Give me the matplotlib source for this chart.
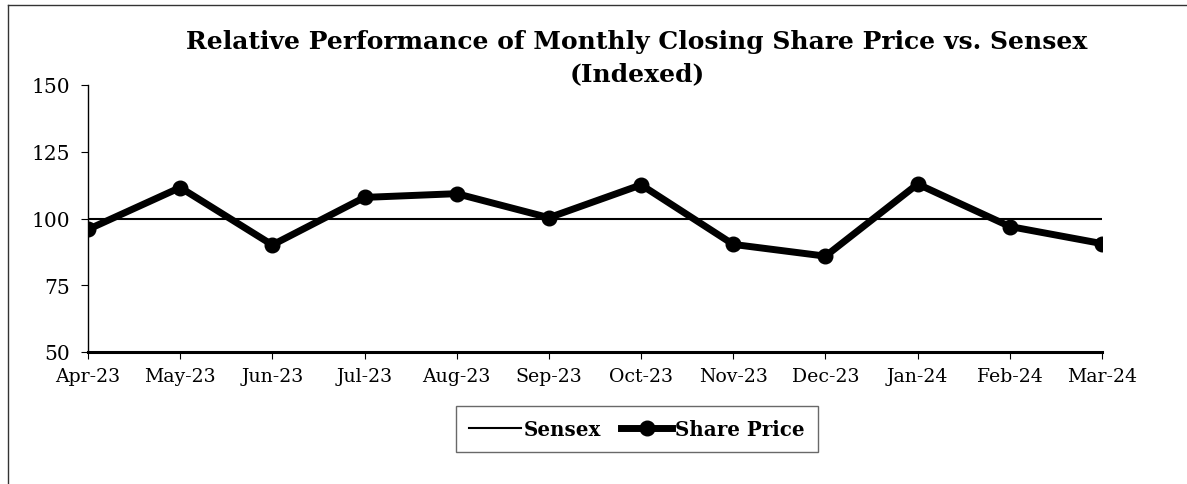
import matplotlib.pyplot as plt
from matplotlib.lines import Line2D

months = ['Apr-23', 'May-23', 'Jun-23', 'Jul-23', 'Aug-23', 'Sep-23',
          'Oct-23', 'Nov-23', 'Dec-23', 'Jan-24', 'Feb-24', 'Mar-24']
sensex = [100] * 12
share_price = [95.9, 111.6, 90.1, 107.9, 109.3, 100.3,
               112.6, 90.3, 85.9, 112.9, 97.0, 90.6]

plt.rcParams['font.family'] = ['DejaVu Serif']

fig = plt.figure(figsize=(11.87, 4.85), dpi=100)
ax = fig.add_axes([88 / 1187, 132 / 485, 1014 / 1187, 267 / 485])

x = list(range(len(months)))
ax.plot(x, sensex, color='black', lw=1.5, label='Sensex')
ax.plot(x, share_price, color='black', lw=5, marker='o', ms=10.5,
        label='Share Price')

ax.set_xlim(0, len(months) - 1)
ax.set_ylim(50, 150)
ax.set_yticks([50, 75, 100, 125, 150])
ax.set_xticks(x)
ax.set_xticklabels(months)
ax.tick_params(axis='both', direction='out', length=5, color='black')
ax.tick_params(axis='y', labelsize=14.5, pad=8)
ax.tick_params(axis='x', labelsize=13.6, pad=6)

ax.spines['top'].set_visible(False)
ax.spines['right'].set_visible(False)
ax.spines['bottom'].set_linewidth(2.2)
ax.spines['left'].set_linewidth(1)

fig.text(637 / 1187, 1 - 58 / 485,
         'Relative Performance of Monthly Closing Share Price vs. Sensex\n(Indexed)',
         ha='center', va='center', fontsize=18, fontweight='bold',
         linespacing=1.4)

leg = fig.legend(loc='center', bbox_to_anchor=(637 / 1187, 1 - 430 / 485),
                 ncol=2, frameon=True, fancybox=False, edgecolor='#444444',
                 prop={'weight': 'bold', 'size': 14.3}, handlelength=2.6,
                 handletextpad=0.15, columnspacing=1.0, borderpad=0.65)
leg.get_frame().set_linewidth(1)

# outer frame of the chart area
fig.add_artist(Line2D([8 / 1187, 8 / 1187], [0, 1 - 6 / 485],
                      transform=fig.transFigure, color='#333333', lw=1))
fig.add_artist(Line2D([8 / 1187, 1], [1 - 6 / 485, 1 - 6 / 485],
                      transform=fig.transFigure, color='#333333', lw=1))

fig.savefig('out.png', dpi=100)
